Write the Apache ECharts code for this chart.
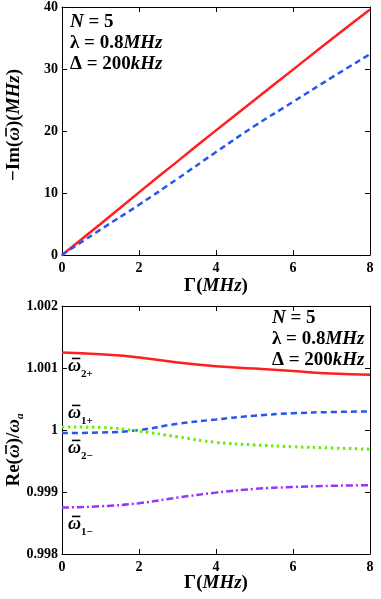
<!DOCTYPE html>
<html>
<head>
<meta charset="utf-8">
<script src="https://cdn.jsdelivr.net/npm/echarts@6/dist/echarts.min.js"></script>
<style>
  html, body { margin: 0; padding: 0; background: #fff; }
  #chart { width: 381px; height: 599px; }
</style>
</head>
<body>
<div id="chart"></div>
<script>
// Gamma (MHz)
var gamma = [0, 1, 2, 3, 4, 5, 6, 7, 8];
// upper panel: -Im(omega)
var imRed = [0, 5.0, 10.1, 15.1, 20.1, 25.0, 29.9, 34.8, 39.6];
var imBlue = [0, 4.1, 8.1, 12.3, 16.6, 20.8, 24.7, 28.6, 32.4];
// lower panel: Re(omega)/omega_a
var re2p = [1.00125, 1.00122, 1.00117, 1.00109, 1.00103, 1.00099, 1.00095, 1.00091, 1.00089];
var re1p = [0.99995, 0.99996, 1.0, 1.0001, 1.00017, 1.00023, 1.00027, 1.00029, 1.0003];
var re2m = [1.00005, 1.00004, 0.99998, 0.99989, 0.9998, 0.99976, 0.99973, 0.99971, 0.99969];
var re1m = [0.99875, 0.99877, 0.99882, 0.99891, 0.99899, 0.99905, 0.99908, 0.9991, 0.99911];

var xTicks = [0, 2, 4, 6, 8];
var imTicks = [0, 10, 20, 30, 40];
var reTicks = [0.998, 0.999, 1, 1.001, 1.002];

var serif = "'Liberation Serif', 'DejaVu Serif', serif";

function pairs(xs, ys) {
  return xs.map(function (x, i) { return [x, ys[i]]; });
}

function xAx(grid, pos) {
  return {
    type: 'value', gridIndex: grid, position: pos,
    min: xTicks[0], max: xTicks[xTicks.length - 1], interval: 2,
    axisLine: { onZero: false, lineStyle: { color: '#000', width: 1 } },
    axisTick: { inside: true, length: 5, lineStyle: { color: '#000' } },
    axisLabel: { show: pos === 'bottom', color: '#000', fontFamily: serif, fontWeight: 'bold', fontSize: 14, margin: 6 },
    splitLine: { show: false }
  };
}
function yAx(grid, pos, ticks, iv) {
  return {
    type: 'value', gridIndex: grid, position: pos,
    min: ticks[0], max: ticks[ticks.length - 1], interval: iv,
    axisLine: { onZero: false, lineStyle: { color: '#000', width: 1 } },
    axisTick: { inside: true, length: 5, lineStyle: { color: '#000' } },
    axisLabel: {
      show: pos === 'left', color: '#000', fontFamily: serif, fontWeight: 'bold', fontSize: 14, margin: 4,
      formatter: function (v) { return String(Number(v.toFixed(4))); }
    },
    splitLine: { show: false }
  };
}

// text measuring, so bars over omega and subscripts can sit where they belong
var ctx = document.createElement('canvas').getContext('2d');
function fontOf(p) {
  return 'bold ' + (p.i ? 'italic ' : '') + (p.size || 19) + 'px ' + serif;
}
function widthOf(p) {
  ctx.font = fontOf(p);
  return ctx.measureText(p.t).width;
}

// parts: [{t, i (italic), size, dy, bar}]; returns group centred (or left) at x,y
function compose(x, y, parts, opts) {
  opts = opts || {};
  var total = 0;
  parts.forEach(function (p) { p.w = widthOf(p); total += p.w; });
  var cx = opts.align === 'left' ? 0 : -total / 2;
  var kids = [];
  parts.forEach(function (p) {
    kids.push({
      type: 'text', x: cx, y: p.dy || 0,
      style: { text: p.t, font: fontOf(p), fill: '#000', textVerticalAlign: 'middle' }
    });
    if (p.bar) {
      var s = p.size || 19;
      kids.push({
        type: 'line',
        shape: { x1: cx + p.w * 0.3, y1: -s * 0.42, x2: cx + p.w * 0.95, y2: -s * 0.42 },
        style: { stroke: '#000', lineWidth: 1.6 }
      });
    }
    cx += p.w;
  });
  return { type: 'group', x: x, y: y, rotation: opts.rotation || 0, children: kids };
}

function paramBlock(x, y) {
  return [
    compose(x, y, [{ t: 'N', i: true }, { t: ' = 5' }], { align: 'left' }),
    compose(x, y + 21, [{ t: 'λ = 0.8' }, { t: 'MHz', i: true }], { align: 'left' }),
    compose(x, y + 42, [{ t: 'Δ = 200' }, { t: 'kHz', i: true }], { align: 'left' })
  ];
}

function omegaLabel(x, y, sub) {
  return compose(x, y, [
    { t: 'ω', i: true, size: 18, bar: true },
    { t: sub, size: 11, dy: 8 }
  ], { align: 'left' });
}

var graphics = []
  .concat(paramBlock(70, 22))
  .concat(paramBlock(272, 318))
  .concat([
    omegaLabel(68, 366, '2+'),
    omegaLabel(68, 413, '1+'),
    omegaLabel(68, 448, '2−'),
    omegaLabel(68, 524, '1−'),
    compose(216, 286, [{ t: 'Γ(' }, { t: 'MHz', i: true }, { t: ')' }]),
    compose(216, 583, [{ t: 'Γ(' }, { t: 'MHz', i: true }, { t: ')' }]),
    compose(14, 125, [{ t: '−Im(' }, { t: 'ω', i: true, bar: true }, { t: ')(' }, { t: 'MHz', i: true }, { t: ')' }],
      { rotation: Math.PI / 2 }),
    compose(14, 450, [{ t: 'Re(' }, { t: 'ω', i: true, bar: true }, { t: ')/' }, { t: 'ω', i: true }, { t: 'a', i: true, size: 11, dy: 6 }],
      { rotation: Math.PI / 2 })
  ]);

var chart = echarts.init(document.getElementById('chart'), null, { renderer: 'canvas' });
chart.setOption({
  animation: false,
  backgroundColor: '#fff',
  grid: [
    { left: 62, top: 7, width: 308, height: 248 },
    { left: 62, top: 306, width: 308, height: 248 }
  ],
  xAxis: [xAx(0, 'bottom'), xAx(0, 'top'), xAx(1, 'bottom'), xAx(1, 'top')],
  yAxis: [
    yAx(0, 'left', imTicks, 10), yAx(0, 'right', imTicks, 10),
    yAx(1, 'left', reTicks, 0.001), yAx(1, 'right', reTicks, 0.001)
  ],
  series: [
    { type: 'line', xAxisIndex: 0, yAxisIndex: 0, data: pairs(gamma, imRed), showSymbol: false, smooth: true,
      lineStyle: { color: '#ff1f1f', width: 2.5 } },
    { type: 'line', xAxisIndex: 0, yAxisIndex: 0, data: pairs(gamma, imBlue), showSymbol: false, smooth: true,
      lineStyle: { color: '#2457f0', width: 2.5, type: [6, 4] } },
    { type: 'line', xAxisIndex: 2, yAxisIndex: 2, data: pairs(gamma, re2p), showSymbol: false, smooth: true,
      lineStyle: { color: '#ff1f1f', width: 2.5 } },
    { type: 'line', xAxisIndex: 2, yAxisIndex: 2, data: pairs(gamma, re1p), showSymbol: false, smooth: true,
      lineStyle: { color: '#2457f0', width: 2.5, type: [6, 4] } },
    { type: 'line', xAxisIndex: 2, yAxisIndex: 2, data: pairs(gamma, re2m), showSymbol: false, smooth: true,
      lineStyle: { color: '#66ee00', width: 3, type: [2.5, 3.5] } },
    { type: 'line', xAxisIndex: 2, yAxisIndex: 2, data: pairs(gamma, re1m), showSymbol: false, smooth: true,
      lineStyle: { color: '#9933ff', width: 2.5, type: [7, 3, 2, 3] } }
  ],
  graphic: graphics
});
</script>
</body>
</html>
